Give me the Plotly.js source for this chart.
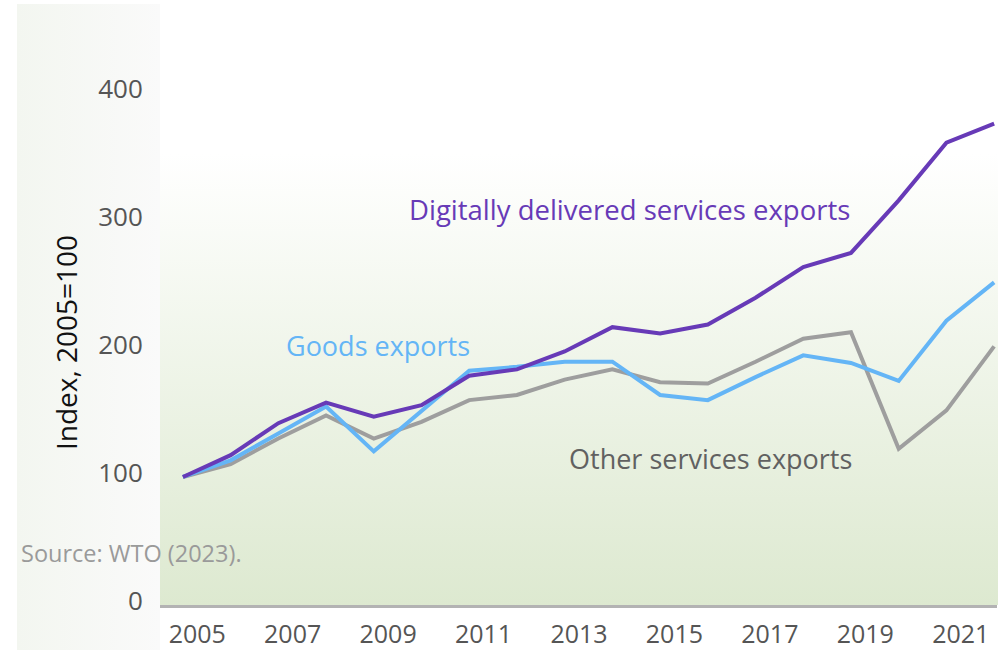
<!DOCTYPE html>
<html>
<head>
<meta charset="utf-8">
<script src="https://cdn.plot.ly/plotly-3.0.1.min.js"></script>
<style>
  html, body { margin: 0; padding: 0; background: #ffffff; }
  #wrap { position: relative; width: 1005px; height: 650px; overflow: hidden; }
  #leftPanel { position: absolute; left: 17px; top: 4px; width: 143px; height: 646px;
    background: linear-gradient(to right, #f3f6f0, #fafafa); }
  #plotPanel { position: absolute; left: 160px; top: 153px; width: 838px; height: 452px;
    background: linear-gradient(to bottom, #ffffff, #dde9d0); }
  #chart { position: absolute; left: 0; top: 0; width: 1005px; height: 650px; }
</style>
</head>
<body>
<div id="wrap">
  <div id="leftPanel"></div>
  <div id="plotPanel"></div>
  <div id="chart"></div>
</div>
<script>
const years = [2005, 2006, 2007, 2008, 2009, 2010, 2011, 2012, 2013, 2014, 2015, 2016, 2017, 2018, 2019, 2020, 2021, 2022];
const digitalServices = [100, 117, 142, 158, 147, 156, 179, 184, 198, 217, 212, 219, 240, 264, 275, 316, 361, 376];
const goodsExports    = [100, 113, 134, 155, 120, 152, 183, 186, 190, 190, 164, 160, 178, 195, 189, 175, 222, 252];
const otherServices   = [100, 110, 130, 148, 130, 143, 160, 164, 176, 184, 174, 173, 190, 208, 213, 122, 152, 202];
const tickYears = [2005, 2007, 2009, 2011, 2013, 2015, 2017, 2019, 2021];
const tickLabels = tickYears.map(String);
const yTicks = [0, 100, 200, 300, 400];

const font = '"Open Sans", Lato, sans-serif';

const traces = [
  { x: years, y: otherServices, name: 'Other services exports', mode: 'lines',
    line: { color: '#9e9e9e', width: 4 } },
  { x: years, y: goodsExports, name: 'Goods exports', mode: 'lines',
    line: { color: '#64b5f6', width: 4 } },
  { x: years, y: digitalServices, name: 'Digitally delivered services exports', mode: 'lines',
    line: { color: '#673ab7', width: 4 } }
];

const layout = {
  width: 1005, height: 650,
  margin: { l: 160, r: 8, t: 16, b: 45 },
  paper_bgcolor: 'rgba(0,0,0,0)',
  plot_bgcolor: 'rgba(0,0,0,0)',
  showlegend: false,
  font: { family: font, color: '#555555', size: 26 },
  xaxis: {
    range: [2004.52, 2022.06],
    tickvals: tickYears.map(v => v + 0.3),
    ticktext: tickLabels,
    showgrid: false, zeroline: false,
    showline: true, linecolor: '#b3b3b3', linewidth: 3,
    ticks: 'outside', ticklen: 5, tickcolor: 'rgba(0,0,0,0)',
    tickfont: { family: font, size: 25, color: '#555555' }
  },
  yaxis: {
    range: [0, 460],
    tickvals: yTicks,
    showgrid: false, zeroline: false, showline: false,
    ticks: 'outside', ticklen: 11, tickcolor: 'rgba(0,0,0,0)',
    ticklabelshift: -4,
    tickfont: { family: font, size: 26, color: '#555555' }
  },
  annotations: [
    { x: 66, y: 343, xref: 'paper', yref: 'paper', text: 'Index, 2005=100', textangle: -90,
      showarrow: false, font: { family: font, size: 28, color: '#111111' } },
    { x: 2014.35, y: 308.6, xref: 'x', yref: 'y', text: 'Digitally delivered services exports',
      showarrow: false, font: { family: font, size: 27.5, color: '#673ab7' } },
    { x: 2009.09, y: 203, xref: 'x', yref: 'y', text: 'Goods exports',
      showarrow: false, font: { family: font, size: 27, color: '#64b5f6' } },
    { x: 2016.05, y: 114.8, xref: 'x', yref: 'y', text: 'Other services exports',
      showarrow: false, font: { family: font, size: 27, color: '#616161' } },
    { x: -0.169, y: 0.088, xref: 'paper', yref: 'paper', xanchor: 'left', yanchor: 'middle',
      text: 'Source: WTO (2023).',
      showarrow: false, font: { family: font, size: 23.5, color: '#9a9a9a' } }
  ]
};
// convert the y-title pixel position to paper coordinates
const plotW = 1005 - 160 - 8, plotH = 650 - 16 - 45;
layout.annotations[0].x = (66 - 160) / plotW;
layout.annotations[0].y = (605 - 343) / plotH;
layout.annotations[0].xanchor = 'center';
layout.annotations[0].yanchor = 'middle';

Plotly.newPlot('chart', traces, layout, { displayModeBar: false, staticPlot: true });
</script>
</body>
</html>
